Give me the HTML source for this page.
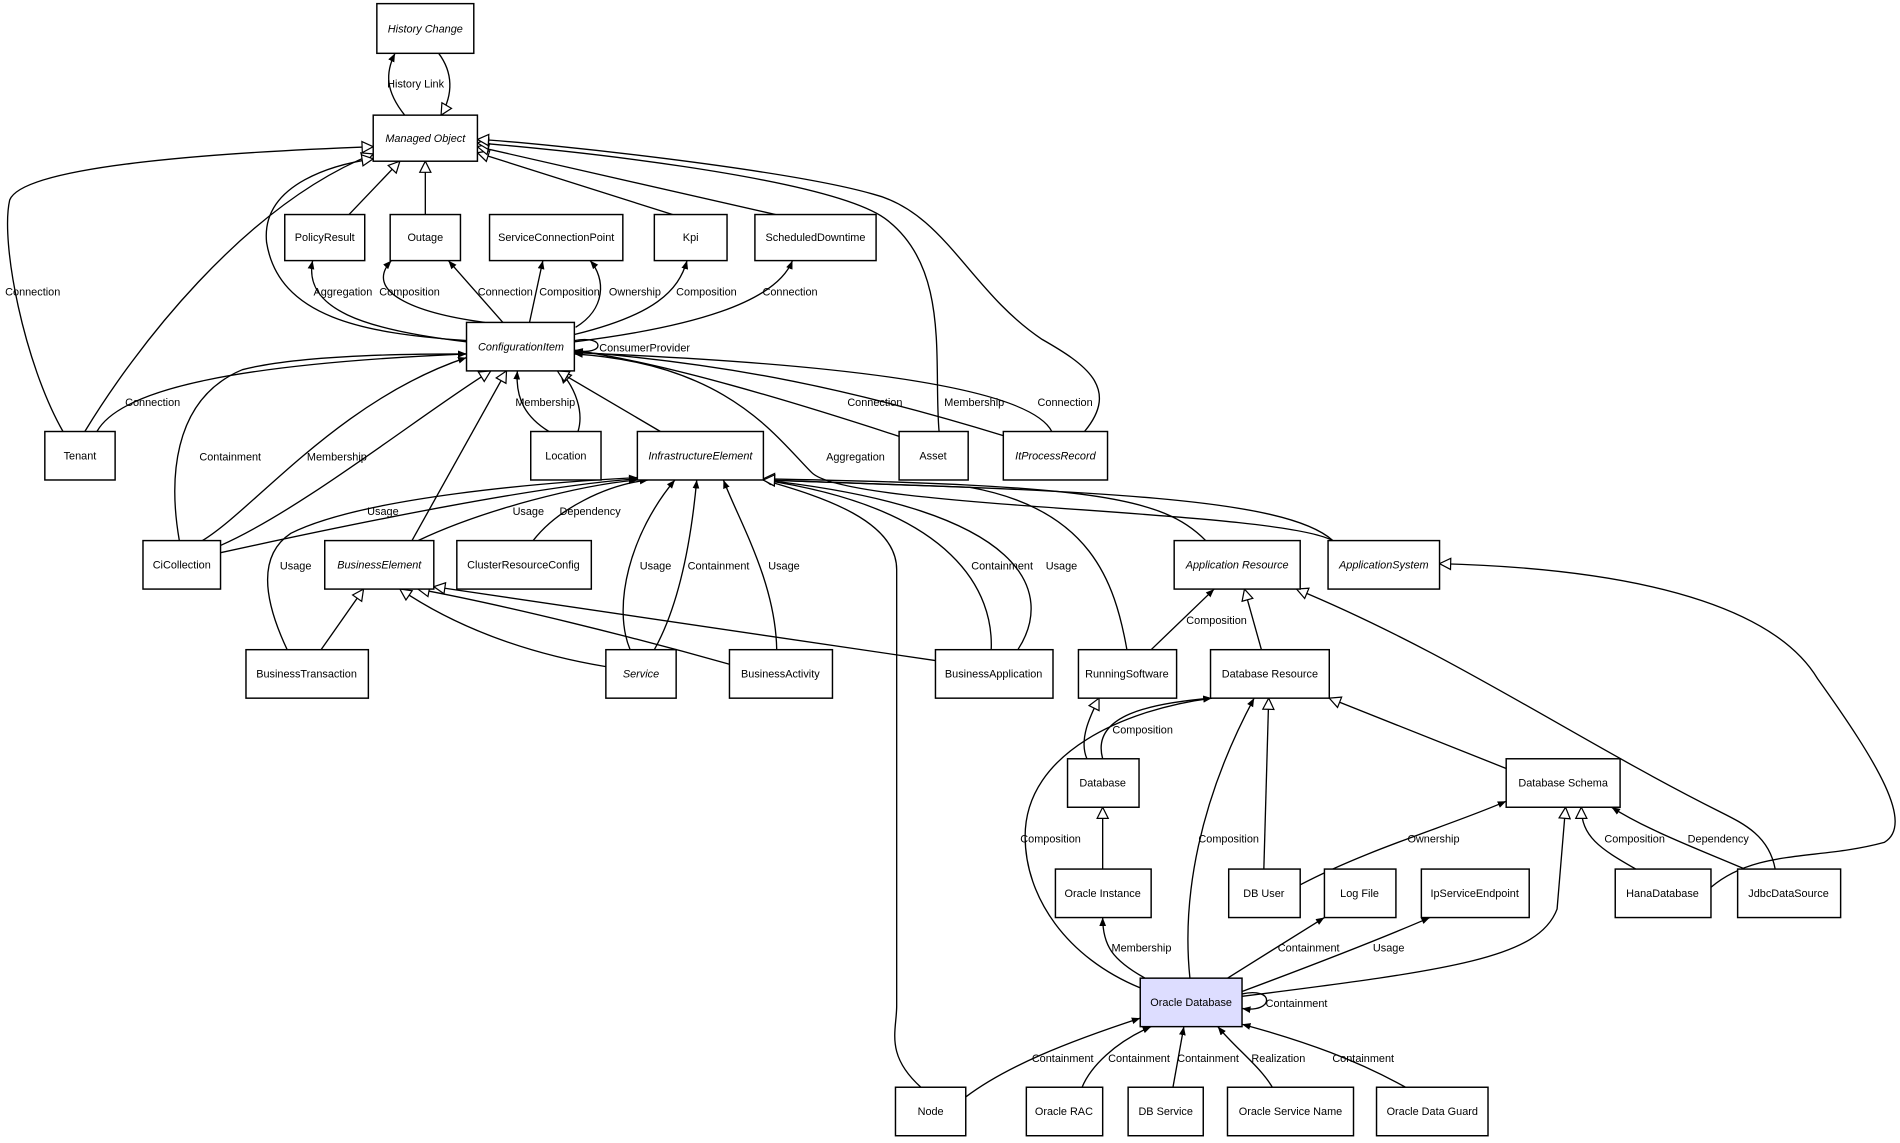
<!DOCTYPE html>
<html><head><meta charset="utf-8"><style>
html,body{margin:0;padding:0;background:#fff;}
svg{display:block;}
text{font-family:"Liberation Sans",Arial,sans-serif;font-size:9px;fill:#000;}
.n{fill:#fff;stroke:#000;stroke-width:1.2;}
.e{fill:none;stroke:#000;stroke-width:1.1;}
</style></head><body>
<svg width="1900" height="1143" viewBox="0 0 1568 943" preserveAspectRatio="none" xmlns="http://www.w3.org/2000/svg">
<defs>
<marker id="f" viewBox="0 0 10 10" refX="10" refY="5" markerWidth="7" markerHeight="7" markerUnits="userSpaceOnUse" orient="auto"><path d="M0,1 L10,5 L0,9 z" fill="#000"/></marker>
<marker id="h" viewBox="0 0 12 12" refX="11" refY="6" markerWidth="11" markerHeight="11" markerUnits="userSpaceOnUse" orient="auto"><path d="M1,1 L11,6 L1,11 z" fill="#fff" stroke="#000" stroke-width="1.1"/></marker>
</defs>
<g class="edges">
<path class="e" marker-end="url(#f)" d="M334,95 C318,75 318,60 326,44"/>
<path class="e" marker-end="url(#h)" d="M362,44 C374,60 374,78 364,95"/>
<path class="e" marker-end="url(#h)" d="M288,177 L330,133"/>
<path class="e" marker-end="url(#h)" d="M351,177 L351,133"/>
<path class="e" marker-end="url(#h)" d="M555,177 L394,126"/>
<path class="e" marker-end="url(#h)" d="M640,177 L394,121"/>
<path class="e" marker-end="url(#h)" d="M70,356 C110,290 200,170 308,127"/>
<path class="e" marker-end="url(#h)" d="M52,356 C20,300 0,200 8,165 C20,135 200,125 308,121"/>
<path class="e" marker-end="url(#h)" d="M385,281 C300,275 230,262 220,200 C215,150 280,135 308,131"/>
<path class="e" marker-end="url(#h)" d="M775,356 C770,300 785,220 730,180 C680,145 450,122 394,118"/>
<path class="e" marker-end="url(#h)" d="M895,356 C925,320 895,300 860,280 C800,240 780,175 720,160 C650,140 450,118 394,115"/>
<path class="e" marker-end="url(#f)" d="M385,282 C300,272 250,255 258,215"/>
<path class="e" marker-end="url(#f)" d="M400,266 C340,258 300,240 323,215"/>
<path class="e" marker-end="url(#f)" d="M415,266 L370,215"/>
<path class="e" marker-end="url(#f)" d="M437,266 L448,215"/>
<path class="e" marker-end="url(#f)" d="M475,270 C500,255 500,230 487,215"/>
<path class="e" marker-end="url(#f)" d="M474,276 C540,260 560,240 567,215"/>
<path class="e" marker-end="url(#f)" d="M474,282 C570,270 640,250 654,215"/>
<path class="e" marker-end="url(#f)" d="M474,281 C500,276 500,294 474,289"/>
<path class="e" marker-end="url(#f)" d="M80,356 C100,320 200,300 385,292"/>
<path class="e" marker-end="url(#f)" d="M148,446 C140,400 140,330 200,305 C250,292 350,292 385,292"/>
<path class="e" marker-end="url(#f)" d="M167,446 C210,420 280,330 385,295"/>
<path class="e" marker-end="url(#h)" d="M182,450 C250,420 350,340 405,306"/>
<path class="e" marker-end="url(#h)" d="M340,446 L418,306"/>
<path class="e" marker-end="url(#f)" d="M453,356 C435,345 425,330 427,306"/>
<path class="e" marker-end="url(#h)" d="M477,356 C482,340 475,320 462,306"/>
<path class="e" marker-end="url(#h)" d="M545,356 L460,306"/>
<path class="e" marker-end="url(#f)" d="M742,360 C650,330 550,300 474,289"/>
<path class="e" marker-end="url(#f)" d="M830,360 C700,320 600,300 474,290"/>
<path class="e" marker-end="url(#f)" d="M868,356 C850,320 700,300 474,291"/>
<path class="e" marker-end="url(#f)" d="M1100,446 C1050,420 700,420 670,390 C640,360 600,300 474,292"/>
<path class="e" marker-end="url(#f)" d="M520,536 C505,500 520,440 557,396"/>
<path class="e" marker-end="url(#f)" d="M540,536 C560,500 570,450 575,396"/>
<path class="e" marker-end="url(#f)" d="M641,536 C640,480 610,430 597,396"/>
<path class="e" marker-end="url(#f)" d="M760,897 C730,870 740,850 740,830 L740,470 C740,430 680,410 630,396"/>
<path class="e" marker-end="url(#f)" d="M818,536 C820,490 790,420 630,396"/>
<path class="e" marker-end="url(#f)" d="M840,536 C870,490 850,420 630,396"/>
<path class="e" marker-end="url(#h)" d="M930,536 C920,480 900,420 800,402 L630,396"/>
<path class="e" marker-end="url(#h)" d="M995,446 C960,410 900,400 630,395"/>
<path class="e" marker-end="url(#h)" d="M1100,446 C1060,410 900,405 630,396"/>
<path class="e" marker-end="url(#f)" d="M182,456 C300,430 450,400 526,395"/>
<path class="e" marker-end="url(#f)" d="M345,446 C400,420 480,400 526,396"/>
<path class="e" marker-end="url(#f)" d="M440,446 C460,420 500,400 535,396"/>
<path class="e" marker-end="url(#f)" d="M237,536 C220,500 210,460 240,440 C300,410 450,398 526,394"/>
<path class="e" marker-end="url(#h)" d="M265,536 L300,486"/>
<path class="e" marker-end="url(#h)" d="M500,550 C440,540 380,520 330,486"/>
<path class="e" marker-end="url(#h)" d="M602,548 C520,525 420,500 345,486"/>
<path class="e" marker-end="url(#h)" d="M772,545 L358,484"/>
<path class="e" marker-end="url(#f)" d="M950,536 L1002,486"/>
<path class="e" marker-end="url(#h)" d="M1041,536 L1027,486"/>
<path class="e" marker-end="url(#h)" d="M1465,717 C1460,690 1440,680 1420,670 C1300,610 1200,540 1070,486"/>
<path class="e" marker-end="url(#h)" d="M1412,732 C1450,700 1500,710 1555,695 C1580,680 1550,630 1500,560 C1470,510 1380,470 1188,465"/>
<path class="e" marker-end="url(#h)" d="M897,626 C890,610 900,590 907,576"/>
<path class="e" marker-end="url(#f)" d="M910,626 C900,590 950,580 1000,576"/>
<path class="e" marker-end="url(#h)" d="M1243,634 L1097,576"/>
<path class="e" marker-end="url(#h)" d="M1043,717 L1047,576"/>
<path class="e" marker-end="url(#f)" d="M941,815 C880,790 846,740 846,690 C846,620 930,585 1000,576"/>
<path class="e" marker-end="url(#f)" d="M982,807 C975,740 990,660 1035,576"/>
<path class="e" marker-end="url(#h)" d="M910,717 L910,666"/>
<path class="e" marker-end="url(#f)" d="M945,807 C918,792 910,780 910,757"/>
<path class="e" marker-end="url(#f)" d="M1073,730 C1130,700 1200,680 1243,661"/>
<path class="e" marker-end="url(#h)" d="M1350,717 C1320,700 1305,690 1305,666"/>
<path class="e" marker-end="url(#f)" d="M1440,717 C1400,700 1360,685 1330,666"/>
<path class="e" marker-end="url(#h)" d="M1025,822 C1200,800 1270,790 1285,750 L1292,666"/>
<path class="e" marker-end="url(#f)" d="M1013,807 L1093,757"/>
<path class="e" marker-end="url(#f)" d="M1025,818 C1100,790 1150,770 1180,757"/>
<path class="e" marker-end="url(#f)" d="M1025,820 C1052,814 1052,836 1025,832"/>
<path class="e" marker-end="url(#f)" d="M797,905 C830,880 880,860 941,840"/>
<path class="e" marker-end="url(#f)" d="M893,897 C900,880 920,860 950,847"/>
<path class="e" marker-end="url(#f)" d="M968,897 L977,847"/>
<path class="e" marker-end="url(#f)" d="M1050,897 C1040,880 1020,865 1005,847"/>
<path class="e" marker-end="url(#f)" d="M1160,897 C1120,875 1080,860 1025,845"/>
</g>
<g class="labels" text-anchor="middle">
<text x="343" y="72">History Link</text>
<text x="27" y="244">Connection</text>
<text x="283" y="244">Aggregation</text>
<text x="338" y="244">Composition</text>
<text x="417" y="244">Connection</text>
<text x="470" y="244">Composition</text>
<text x="524" y="244">Ownership</text>
<text x="583" y="244">Composition</text>
<text x="652" y="244">Connection</text>
<text x="532" y="290">ConsumerProvider</text>
<text x="126" y="335">Connection</text>
<text x="450" y="335">Membership</text>
<text x="722" y="335">Connection</text>
<text x="804" y="335">Membership</text>
<text x="879" y="335">Connection</text>
<text x="190" y="380">Containment</text>
<text x="278" y="380">Membership</text>
<text x="706" y="380">Aggregation</text>
<text x="316" y="425">Usage</text>
<text x="436" y="425">Usage</text>
<text x="487" y="425">Dependency</text>
<text x="244" y="470">Usage</text>
<text x="541" y="470">Usage</text>
<text x="593" y="470">Containment</text>
<text x="647" y="470">Usage</text>
<text x="827" y="470">Containment</text>
<text x="876" y="470">Usage</text>
<text x="1004" y="515">Composition</text>
<text x="943" y="605">Composition</text>
<text x="867" y="695">Composition</text>
<text x="1014" y="695">Composition</text>
<text x="1183" y="695">Ownership</text>
<text x="1349" y="695">Composition</text>
<text x="1418" y="695">Dependency</text>
<text x="942" y="785">Membership</text>
<text x="1080" y="785">Containment</text>
<text x="1146" y="785">Usage</text>
<text x="1070" y="831">Containment</text>
<text x="877" y="876">Containment</text>
<text x="940" y="876">Containment</text>
<text x="997" y="876">Containment</text>
<text x="1055" y="876">Realization</text>
<text x="1125" y="876">Containment</text>
</g>
<g class="nodes" text-anchor="middle">
<rect class="n" x="311" y="3" width="80" height="41"/><text x="351" y="27" font-style="italic">History Change</text>
<rect class="n" x="308" y="95" width="86" height="38"/><text x="351" y="117" font-style="italic">Managed Object</text>
<rect class="n" x="235" y="177" width="66" height="38"/><text x="268" y="199">PolicyResult</text>
<rect class="n" x="322" y="177" width="58" height="38"/><text x="351" y="199">Outage</text>
<rect class="n" x="404" y="177" width="110" height="38"/><text x="459" y="199">ServiceConnectionPoint</text>
<rect class="n" x="540" y="177" width="60" height="38"/><text x="570" y="199">Kpi</text>
<rect class="n" x="623" y="177" width="100" height="38"/><text x="673" y="199">ScheduledDowntime</text>
<rect class="n" x="385" y="266" width="89" height="40"/><text x="430" y="289" font-style="italic">ConfigurationItem</text>
<rect class="n" x="37" y="356" width="58" height="40"/><text x="66" y="379">Tenant</text>
<rect class="n" x="438" y="356" width="58" height="40"/><text x="467" y="379">Location</text>
<rect class="n" x="526" y="356" width="104" height="40"/><text x="578" y="379" font-style="italic">InfrastructureElement</text>
<rect class="n" x="742" y="356" width="57" height="40"/><text x="770" y="379">Asset</text>
<rect class="n" x="828" y="356" width="86" height="40"/><text x="871" y="379" font-style="italic">ItProcessRecord</text>
<rect class="n" x="118" y="446" width="64" height="40"/><text x="150" y="469">CiCollection</text>
<rect class="n" x="268" y="446" width="90" height="40"/><text x="313" y="469" font-style="italic">BusinessElement</text>
<rect class="n" x="377" y="446" width="111" height="40"/><text x="432" y="469">ClusterResourceConfig</text>
<rect class="n" x="969" y="446" width="104" height="40"/><text x="1021" y="469" font-style="italic">Application Resource</text>
<rect class="n" x="1096" y="446" width="92" height="40"/><text x="1142" y="469" font-style="italic">ApplicationSystem</text>
<rect class="n" x="203" y="536" width="101" height="40"/><text x="253" y="559">BusinessTransaction</text>
<rect class="n" x="500" y="536" width="58" height="40"/><text x="529" y="559" font-style="italic">Service</text>
<rect class="n" x="602" y="536" width="85" height="40"/><text x="644" y="559">BusinessActivity</text>
<rect class="n" x="772" y="536" width="97" height="40"/><text x="820" y="559">BusinessApplication</text>
<rect class="n" x="890" y="536" width="81" height="40"/><text x="930" y="559">RunningSoftware</text>
<rect class="n" x="999" y="536" width="98" height="40"/><text x="1048" y="559">Database Resource</text>
<rect class="n" x="881" y="626" width="59" height="40"/><text x="910" y="649">Database</text>
<rect class="n" x="1243" y="626" width="94" height="40"/><text x="1290" y="649">Database Schema</text>
<rect class="n" x="871" y="717" width="79" height="40"/><text x="910" y="740">Oracle Instance</text>
<rect class="n" x="1014" y="717" width="59" height="40"/><text x="1043" y="740">DB User</text>
<rect class="n" x="1093" y="717" width="59" height="40"/><text x="1122" y="740">Log File</text>
<rect class="n" x="1173" y="717" width="89" height="40"/><text x="1217" y="740">IpServiceEndpoint</text>
<rect class="n" x="1333" y="717" width="79" height="40"/><text x="1372" y="740">HanaDatabase</text>
<rect class="n" x="1434" y="717" width="85" height="40"/><text x="1476" y="740">JdbcDataSource</text>
<rect class="n" x="941" y="807" width="84" height="40" style="fill:#ddddff"/><text x="983" y="830">Oracle Database</text>
<rect class="n" x="739" y="897" width="58" height="40"/><text x="768" y="920">Node</text>
<rect class="n" x="847" y="897" width="63" height="40"/><text x="878" y="920">Oracle RAC</text>
<rect class="n" x="931" y="897" width="62" height="40"/><text x="962" y="920">DB Service</text>
<rect class="n" x="1013" y="897" width="104" height="40"/><text x="1065" y="920">Oracle Service Name</text>
<rect class="n" x="1136" y="897" width="92" height="40"/><text x="1182" y="920">Oracle Data Guard</text>
</g>
</svg>
</body></html>
